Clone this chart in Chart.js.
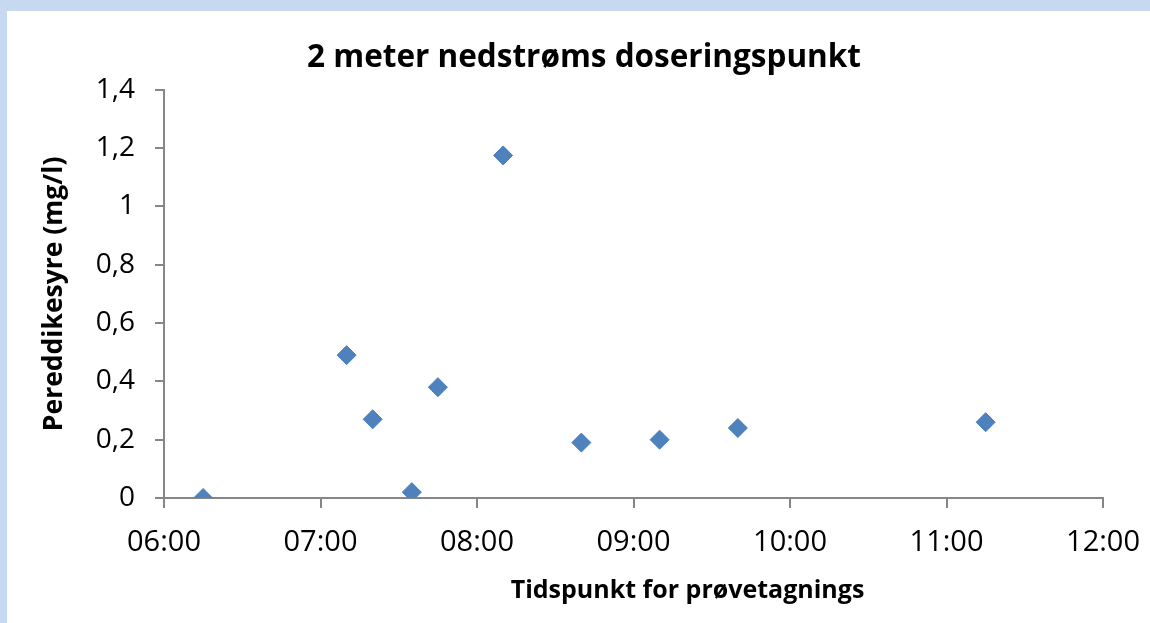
<!DOCTYPE html>
<html>
<head>
<meta charset="utf-8">
<script src="https://cdn.jsdelivr.net/npm/chart.js@4/dist/chart.umd.min.js"></script>
<style>
  html, body { margin: 0; padding: 0; }
  body { width: 1150px; height: 623px; background: #c6d9f1; position: relative; overflow: hidden; }
  #wrap { position: absolute; left: 7px; top: 11px; width: 1143px; height: 612px; background: #fff; }
</style>
</head>
<body>
<div id="wrap"><canvas id="chart" width="1143" height="612"></canvas></div>
<script>
// prøvetakingstidspunkt og målt pereddikesyre
const sampleTimes = ["06:15", "07:10", "07:20", "07:35", "07:45", "08:10", "08:40", "09:10", "09:40", "11:15"];
const paaValues = [0.00, 0.49, 0.27, 0.02, 0.38, 1.175, 0.19, 0.20, 0.24, 0.26];

const xMin = "06:00";
const xMax = "12:00";
const yTicks = [0, 0.2, 0.4, 0.6, 0.8, 1, 1.2, 1.4];

const chartTitle = "2 meter nedstrøms doseringspunkt";
const xTitle = "Tidspunkt for prøvetagnings";
const yTitle = "Pereddikesyre (mg/l)";

const FONT = "'Open Sans', 'Liberation Sans', sans-serif";
const AXIS = "#868686";

function toMinutes(t) {
  const [h, m] = t.split(":").map(Number);
  return h * 60 + m;
}

function fmtTime(min) {
  const h = Math.floor(min / 60);
  const m = min % 60;
  return String(h).padStart(2, "0") + ":" + String(m).padStart(2, "0");
}

const points = sampleTimes.map((t, i) => ({ x: toMinutes(t), y: paaValues[i] }));

// x-aksetittelen står litt til høyre for midten av plottet
const xTitlePlugin = {
  id: "xTitle",
  afterDraw(chart) {
    const ctx = chart.ctx;
    const area = chart.chartArea;
    ctx.save();
    ctx.fillStyle = "#000";
    ctx.font = "bold 25px " + FONT;
    ctx.textAlign = "center";
    ctx.textBaseline = "alphabetic";
    ctx.fillText(xTitle, (area.left + area.right) / 2 + 54, chart.height - 25);
    ctx.restore();
  },
};

new Chart(document.getElementById("chart"), {
  type: "scatter",
  data: {
    datasets: [{
      data: points,
      pointStyle: "rectRot",
      pointRadius: 9.5,
      pointHoverRadius: 9.5,
      backgroundColor: "#4f81bd",
      borderColor: "#4a7ebb",
      borderWidth: 1,
    }],
  },
  plugins: [xTitlePlugin],
  options: {
    responsive: false,
    animation: false,
    layout: { padding: { left: 11, right: 0, top: 0, bottom: 0 } },
    plugins: {
      legend: { display: false },
      tooltip: { enabled: false },
      title: {
        display: true,
        text: chartTitle,
        color: "#000",
        font: { family: FONT, size: 31.5, weight: "bold" },
        padding: { top: 28, bottom: 13 },
      },
    },
    scales: {
      x: {
        type: "linear",
        min: toMinutes(xMin),
        max: toMinutes(xMax),
        afterFit: (s) => { s.height = 125; },
        afterBuildTicks: (s) => {
          const ticks = [];
          for (let v = toMinutes(xMin); v <= toMinutes(xMax); v += 60) ticks.push({ value: v });
          s.ticks = ticks;
        },
        border: { display: true, color: AXIS, width: 2 },
        grid: { drawOnChartArea: false, drawTicks: true, tickLength: 10, color: AXIS, lineWidth: 2 },
        ticks: {
          color: "#000",
          padding: 10,
          maxRotation: 0,
          // høy linjehøyde skyver etikettene ned uten å øke høyremargen
          font: { family: FONT, size: 29, lineHeight: 1.68 },
          callback: (v) => fmtTime(v),
        },
      },
      y: {
        min: 0,
        max: 1.4,
        afterFit: (s) => { s.width = 146; },
        afterBuildTicks: (s) => { s.ticks = yTicks.map((v) => ({ value: v })); },
        border: { display: true, color: AXIS, width: 2 },
        grid: { drawOnChartArea: false, drawTicks: true, tickLength: 9, color: AXIS, lineWidth: 2 },
        ticks: {
          color: "#000",
          padding: 20,
          font: { family: FONT, size: 28 },
          callback: (v) => String(Math.round(v * 10) / 10).replace(".", ","),
        },
        title: {
          display: true,
          text: yTitle,
          color: "#000",
          font: { family: FONT, size: 26.5, weight: "bold" },
          padding: { top: 21, bottom: 0 },
        },
      },
    },
  },
});
</script>
</body>
</html>
